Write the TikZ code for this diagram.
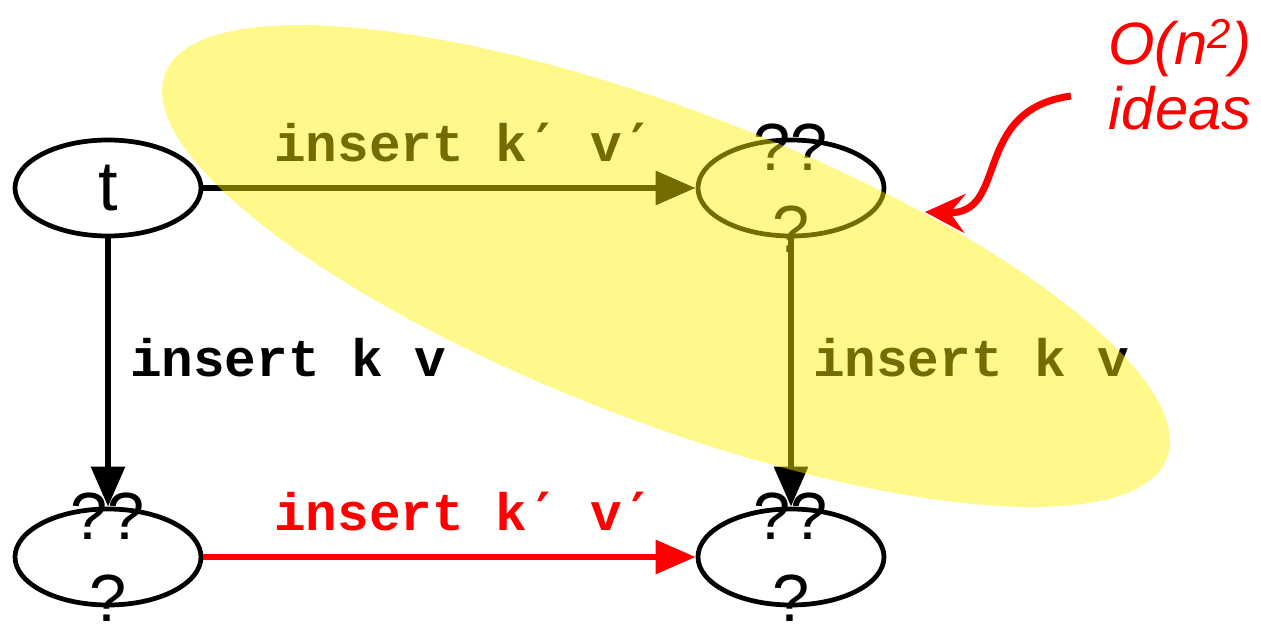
\documentclass[tikz,border=0pt]{standalone}
\usepackage{fontspec}
\setmainfont{Liberation Sans}
\setmonofont{Liberation Mono}
\newfontfamily\primefont{DejaVu Sans Mono}
\newcommand{\pr}{{\primefont\bfseries ′}}
\usetikzlibrary{arrows.meta, positioning, shapes.geometric}

\begin{document}
\begin{tikzpicture}[
        state/.style={draw, ellipse, line width=2.7pt, minimum width=3.72cm, minimum height=1.92cm, inner sep=0pt, font=\fontsize{40}{47}\selectfont},
        qmark/.style={align=center, inner sep=0pt, font=\fontsize{38}{47}\selectfont},
        edge/.style={line width=3.5pt, -{Triangle[length=0.8cm, width=0.66cm]}},
        oplabel/.style={font=\fontsize{30}{36}\selectfont\ttfamily\bfseries, inner sep=0pt},
        note/.style={text=red, align=center, inner sep=0pt, font=\fontsize{34}{37}\selectfont\itshape}
    ]
    \useasboundingbox (0,0) rectangle (25.22,12.52);

    % ---- states ----
    \node[state] (t) at (2.16,8.76) {t};
    \node[state] (tr) at (15.82,8.76) {};
    \node[state] (bl) at (2.16,1.38) {};
    \node[state] (br) at (15.82,1.38) {};

    % ---- unknown results ----
    \node[qmark] (qtr) at (tr.center) {??\\?};
    \node[qmark] (qbl) at (bl.center) {??\\?};
    \node[qmark] (qbr) at (br.center) {??\\?};

    % ---- inserts ----
    \draw[edge] (t.east) -- node[oplabel, pos=0.53, above=0.46cm] {insert k\pr{} v\pr} (tr.west);
    \draw[edge] (t.south) -- node[oplabel, midway, right=0.38cm, yshift=0.3cm] {insert k v} (bl.north);
    \draw[edge] (tr.south) -- node[oplabel, midway, right=0.38cm, yshift=0.3cm] {insert k v} (br.north);
    \draw[edge, red] (bl.east) -- node[oplabel, pos=0.53, above=0.46cm] {insert k\pr{} v\pr} (br.west);

    % ---- highlighted region ----
    \fill[yellow, fill opacity=0.45, rotate around={-21:(13.32,7.2)}] (13.32,7.2) ellipse (10.73 and 3.11);

    % ---- note ----
    \node[note] (ideas) at (23.6,11.02) {O(n\textsuperscript{2})\\ideas};
    \coordinate (noteStart) at (21.42,10.6);
    \coordinate (noteEnd) at (18.5,8.28);
    \draw[red, line width=4pt, -{Stealth[length=0.8cm, width=0.78cm, inset=0.3cm]}]
        (noteStart) .. controls (19.4,10.32) and (20.2,8.22) .. (noteEnd);

\end{tikzpicture}
\end{document}
